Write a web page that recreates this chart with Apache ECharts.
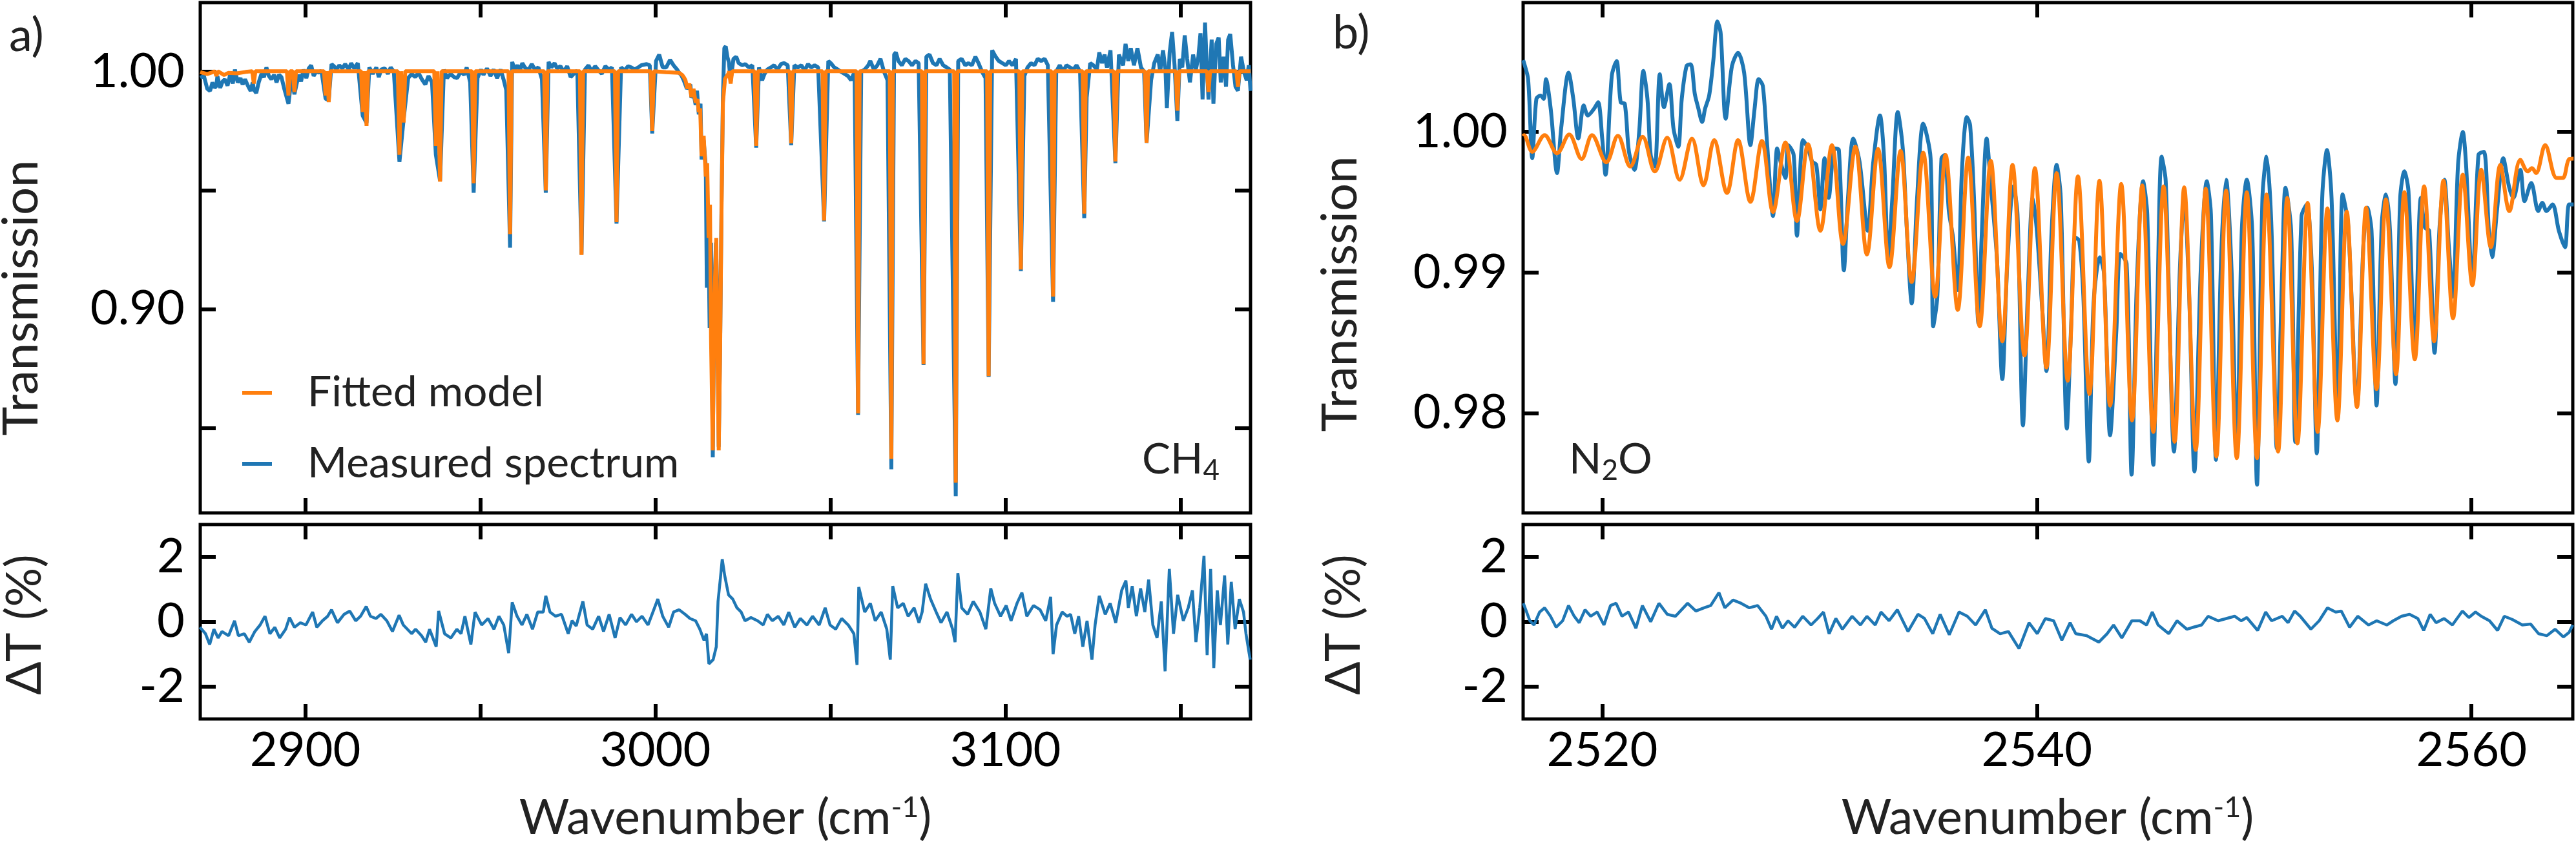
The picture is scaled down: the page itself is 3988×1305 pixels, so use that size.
<!DOCTYPE html>
<html>
<head>
<meta charset="utf-8">
<script src="https://cdn.jsdelivr.net/npm/echarts@6.0.0/dist/echarts.min.js"></script>
<style>
html, body { margin: 0; padding: 0; background: #fff; }
#chart { width: 3988px; height: 1305px; }
</style>
</head>
<body>
<div id="chart"></div>
<script>
const FONT = 'Lato, "Open Sans", sans-serif';
const BLUE = '#1f77b4';
const ORANGE = '#ff7f0e';

// ---- panel a) CH4 ----
// absorption lines: [wavenumber, fitted model, measured]
const ch4Lines = [
    [2874.6, 0.9982, 0.9940], [2885.3, 0.9950, 0.9925], [2895.2, 0.9900, 0.9865],
    [2896.9, 0.9915, 0.9905], [2905.8, 0.9900, 0.9886], [2906.7, 0.9872, 0.9880],
    [2916.4, 0.9830, 0.9815], [2917.5, 0.9772, 0.9785], [2926.9, 0.9650, 0.9620],
    [2928.1, 0.9786, 0.9800], [2937.3, 0.9687, 0.9650], [2938.5, 0.9537, 0.9540],
    [2948.1, 0.9530, 0.9490], [2958.5, 0.9316, 0.9259], [2968.7, 0.9500, 0.9490],
    [2978.9, 0.9228, 0.9230], [2988.9, 0.9366, 0.9360], [2999.1, 0.9750, 0.9740],
    [3021.5, 0.9950, 0.9960], [3028.8, 0.9687, 0.9680], [3038.8, 0.9698, 0.9690],
    [3048.2, 0.9373, 0.9370], [3057.9, 0.8561, 0.8555], [3067.4, 0.8369, 0.8326],
    [3076.6, 0.8768, 0.8765], [3085.8, 0.8269, 0.8212], [3095.2, 0.8718, 0.8715],
    [3104.4, 0.9167, 0.9160], [3113.6, 0.9053, 0.9031], [3122.5, 0.9402, 0.9383],
    [3131.4, 0.9622, 0.9615], [3140.3, 0.9701, 0.9700], [3149.1, 0.9836, 0.9793],
    [3158.0, 0.9915, 0.9883], [3166.4, 0.9936, 0.9920]
];
const ch4ModelBase = 1.0002;
const ch4ModelExtra = [
    [2870.0, 0.9998], [2872.0, 0.9990], [2873.2, 0.9996], [2876.8, 0.9986],
    [2878.0, 0.9995], [2880.5, 0.9993], [2883.0, 0.9999], [3170.0, 1.0002]
];
// Q-branch near 3017 cm-1
const ch4QModel = [
    [3003.0, 0.9998], [3006.8, 0.9995], [3007.7, 0.9986], [3008.2, 0.9975], [3008.6, 0.9964],
    [3009.1, 0.9929], [3009.7, 0.9950], [3010.3, 0.9893], [3010.9, 0.9928], [3011.5, 0.9870],
    [3012.0, 0.9885], [3012.4, 0.9830], [3012.8, 0.9845], [3013.2, 0.9644], [3013.8, 0.9730],
    [3014.4, 0.9558], [3014.8, 0.9615], [3015.2, 0.9300], [3015.6, 0.9440], [3015.9, 0.8875],
    [3016.4, 0.8405], [3016.8, 0.9017], [3017.4, 0.9300], [3017.7, 0.8870], [3018.1, 0.8405],
    [3018.5, 0.8832], [3018.9, 0.9420], [3019.3, 0.9870], [3019.9, 0.9970], [3020.9, 0.9993]
];
const ch4QMeas = [
    [3006.8, 0.9995], [3007.4, 0.9985], [3008.1, 0.9964], [3009.0, 0.9928], [3010.0, 0.9946],
    [3010.3, 0.9890], [3010.9, 0.9910], [3011.5, 0.9860], [3011.9, 0.9920], [3012.4, 0.9820],
    [3012.9, 0.9865], [3013.2, 0.9630], [3013.8, 0.9710], [3014.4, 0.9600], [3014.7, 0.9090],
    [3015.1, 0.9400], [3015.5, 0.8920], [3015.9, 0.9280], [3016.4, 0.8376], [3016.8, 0.9050],
    [3017.3, 0.9280], [3017.8, 0.9000], [3018.1, 0.8420], [3018.5, 0.8850], [3018.9, 0.9450],
    [3019.3, 0.9900], [3019.7, 1.0100], [3020.1, 1.0107], [3020.6, 1.0060], [3021.0, 1.0040]
];
// measured spectrum between the lines
const ch4BaseMeas = [
    [2870.0, 0.9975], [2871.05, 0.9982], [2872.0, 0.9928], [2872.8, 0.9919], [2873.5, 0.9955], [2874.1, 0.9932],
    [2874.9, 0.9982], [2875.7, 0.9932], [2876.4, 0.9959], [2877.0, 0.9968], [2877.8, 0.9941],
    [2878.6, 0.9991], [2879.3, 0.9950], [2879.9, 1.0009], [2880.7, 0.9955], [2881.5, 0.9973],
    [2882.1, 0.9946], [2882.8, 0.9968], [2883.6, 0.9941], [2884.4, 0.9919], [2885.0, 0.9955],
    [2886.0, 0.9910], [2886.7, 0.9955], [2887.5, 0.9991], [2888.2, 0.9977], [2888.9, 1.0018],
    [2889.6, 0.9982], [2890.3, 0.9968], [2891.1, 0.9987], [2891.8, 0.9955], [2892.5, 0.9987],
    [2893.2, 0.9977], [2894.0, 0.9928], [2896.1, 0.9977], [2898.1, 0.9987], [2898.8, 0.9959],
    [2899.5, 1.0009], [2900.3, 0.9973], [2901.0, 1.0014], [2901.7, 1.0027], [2902.4, 0.9982],
    [2903.1, 1.0000], [2903.9, 0.9996], [2904.6, 1.0005], [2907.5, 1.0032], [2908.2, 1.0023],
    [2908.9, 1.0009], [2909.7, 1.0027], [2910.6, 1.0014], [2911.4, 1.0032], [2912.4, 1.0009],
    [2913.1, 1.0036], [2914.0, 1.0014], [2915.0, 1.0036], [2918.3, 1.0018], [2919.3, 0.9991],
    [2920.3, 1.0018], [2921.0, 0.9977], [2921.7, 1.0009], [2922.7, 1.0014], [2923.6, 0.9991],
    [2924.4, 1.0018], [2925.3, 1.0000], [2929.4, 0.9973], [2930.4, 0.9991], [2931.4, 0.9977],
    [2932.3, 0.9996], [2933.3, 0.9968], [2934.3, 0.9946], [2935.2, 0.9982], [2936.2, 0.9955],
    [2939.6, 1.0009], [2940.5, 0.9973], [2941.5, 0.9991], [2942.5, 0.9977], [2943.4, 0.9973],
    [2944.4, 1.0000], [2945.4, 0.9987], [2946.1, 1.0018], [2947.1, 0.9955], [2949.2, 0.9973],
    [2950.2, 1.0009], [2950.9, 0.9987], [2951.9, 1.0014], [2952.9, 0.9982], [2953.8, 1.0009],
    [2954.8, 0.9973], [2955.8, 1.0009], [2956.7, 0.9964], [2957.4, 0.9923], [2959.1, 1.0041],
    [2959.8, 1.0009], [2960.6, 1.0027], [2961.3, 1.0005], [2962.0, 1.0036], [2962.7, 1.0018],
    [2963.7, 1.0005], [2964.7, 1.0032], [2965.6, 1.0009], [2966.6, 1.0018], [2967.6, 0.9968],
    [2969.5, 1.0041], [2970.3, 1.0018], [2971.2, 1.0036], [2971.9, 1.0014], [2972.9, 1.0023],
    [2973.8, 1.0000], [2974.8, 1.0023], [2975.8, 0.9977], [2976.7, 0.9991], [2977.7, 1.0005],
    [2979.9, 1.0009], [2980.9, 1.0027], [2981.8, 1.0000], [2982.8, 1.0023], [2983.8, 1.0005],
    [2984.7, 0.9991], [2985.7, 1.0023], [2986.7, 1.0009], [2987.6, 1.0018], [2990.2, 1.0018],
    [2991.2, 1.0005], [2992.2, 1.0023], [2993.1, 1.0018], [2994.1, 1.0009], [2995.1, 1.0018],
    [2996.0, 1.0027], [2997.5, 1.0032], [2998.4, 1.0027], [3000.2, 1.0045], [3001.1, 1.0072],
    [3002.1, 1.0018], [3003.1, 1.0018], [3004.2, 1.0050], [3005.2, 1.0027], [3006.2, 1.0009],
    [3022.3, 1.0054], [3023.1, 1.0063], [3023.8, 1.0036], [3024.8, 1.0027], [3025.7, 1.0032],
    [3026.7, 1.0018], [3027.7, 1.0027], [3029.6, 1.0018], [3030.5, 0.9964], [3031.2, 0.9991],
    [3032.0, 1.0009], [3033.0, 1.0018], [3033.9, 1.0027], [3034.9, 1.0009], [3035.9, 1.0032],
    [3036.8, 1.0036], [3037.8, 1.0027], [3039.7, 1.0027], [3040.7, 1.0018], [3041.7, 1.0027],
    [3042.6, 1.0005], [3043.6, 1.0032], [3044.5, 1.0018], [3045.5, 1.0027], [3046.5, 1.0018],
    [3049.4, 1.0045], [3050.1, 1.0036], [3051.1, 1.0018], [3052.1, 1.0009], [3053.0, 1.0000],
    [3054.0, 0.9991], [3055.0, 0.9982], [3055.9, 0.9964], [3056.9, 1.0000], [3058.8, 1.0000],
    [3059.8, 1.0009], [3060.8, 1.0027], [3061.4, 1.0045], [3062.4, 1.0009], [3063.4, 1.0027],
    [3064.3, 1.0054], [3065.3, 1.0000], [3066.3, 0.9964], [3068.2, 1.0072], [3068.7, 1.0081],
    [3069.4, 1.0045], [3070.4, 1.0027], [3071.4, 1.0054], [3072.3, 1.0045], [3073.3, 1.0027],
    [3074.3, 1.0045], [3075.2, 1.0036], [3077.4, 1.0063], [3078.3, 1.0072], [3079.3, 1.0036],
    [3080.3, 1.0027], [3081.2, 1.0054], [3082.2, 1.0027], [3083.2, 1.0018], [3084.1, 1.0009],
    [3086.5, 1.0045], [3087.5, 1.0054], [3088.5, 1.0027], [3089.4, 1.0036], [3090.4, 1.0027],
    [3091.4, 1.0063], [3092.3, 1.0036], [3093.3, 1.0000], [3094.3, 0.9973], [3096.2, 1.0090],
    [3097.2, 1.0063], [3098.1, 1.0045], [3099.1, 1.0036], [3100.1, 1.0027], [3101.0, 1.0045],
    [3102.0, 1.0027], [3103.0, 1.0054], [3105.4, 0.9982], [3106.3, 1.0018], [3107.3, 1.0036],
    [3108.3, 1.0027], [3109.2, 1.0054], [3110.2, 1.0045], [3111.2, 1.0054], [3112.1, 1.0027],
    [3114.5, 1.0000], [3115.5, 1.0027], [3116.5, 1.0000], [3117.4, 1.0027], [3118.4, 1.0018],
    [3119.4, 1.0009], [3120.3, 1.0027], [3121.3, 1.0000], [3123.2, 0.9892], [3124.2, 1.0036],
    [3125.1, 1.0027], [3126.1, 1.0009], [3126.8, 1.0081], [3127.6, 1.0036], [3128.3, 1.0072],
    [3129.0, 1.0018], [3130.0, 1.0090], [3132.4, 1.0072], [3133.6, 1.0027], [3134.3, 1.0117],
    [3135.1, 1.0045], [3135.8, 1.0099], [3136.7, 1.0027], [3137.7, 1.0099], [3138.7, 1.0018],
    [3139.6, 1.0000], [3141.6, 0.9964], [3142.5, 1.0036], [3143.5, 1.0072], [3144.2, 1.0000],
    [3145.0, 1.0090], [3145.7, 1.0009], [3146.1, 0.9847], [3146.9, 1.0081], [3147.6, 1.0167],
    [3148.3, 1.0027], [3149.8, 1.0054], [3150.5, 1.0018], [3151.2, 1.0153], [3151.9, 1.0054],
    [3152.7, 0.9955], [3153.6, 1.0072], [3154.4, 1.0009], [3155.1, 1.0063], [3155.7, 1.0162],
    [3156.3, 0.9883], [3157.0, 1.0207], [3157.5, 1.0027], [3158.9, 1.0135], [3159.4, 0.9865],
    [3160.2, 1.0117], [3160.9, 1.0144], [3161.5, 0.9955], [3162.3, 1.0063], [3163.0, 0.9937],
    [3163.6, 1.0135], [3164.2, 1.0158], [3165.0, 1.0027], [3165.7, 0.9937], [3167.3, 1.0063],
    [3168.1, 1.0000], [3168.9, 0.9964], [3169.5, 1.0027], [3170.0, 0.9919]
];
// residual a) in %
const resAWn = [
    2869.9, 2871.5, 2872.7, 2873.9, 2875.1, 2876.2, 2878.1, 2879.8, 2880.9, 2882.6, 2884.0, 2885.6,
    2887.1, 2888.5, 2889.9, 2891.3, 2892.7, 2894.4, 2895.5, 2896.9, 2898.6, 2900.2, 2902.1, 2903.3,
    2904.9, 2906.4, 2907.5, 2909.2, 2911.1, 2912.7, 2914.4, 2915.8, 2917.4, 2918.6, 2920.2, 2921.6,
    2923.3, 2924.9, 2926.8, 2928.0, 2930.4, 2931.5, 2933.2, 2934.4, 2935.5, 2937.4, 2938.1, 2939.8,
    2941.6, 2943.3, 2944.5, 2945.6, 2947.3, 2948.5, 2950.4, 2952.2, 2953.9, 2955.3, 2956.7, 2958.1,
    2959.1, 2960.5, 2961.9, 2963.3, 2964.9, 2966.4, 2968.0, 2968.7, 2969.9, 2971.5, 2973.2, 2975.1,
    2976.2, 2977.4, 2979.3, 2980.5, 2982.1, 2983.8, 2985.2, 2986.8, 2988.5, 2989.9, 2991.5, 2993.2,
    2994.6, 2996.2, 2997.9, 2999.3, 3000.7, 3002.1, 3003.8, 3005.2, 3006.8, 3008.5, 3009.9, 3011.5,
    3012.7, 3013.9, 3014.6, 3015.3, 3016.5, 3017.4, 3017.9, 3018.6, 3019.1, 3019.8, 3020.9, 3022.1,
    3023.3, 3024.5, 3025.6, 3027.3, 3029.2, 3030.8, 3032.0, 3033.4, 3035.1, 3036.7, 3038.1, 3039.8,
    3041.4, 3043.3, 3044.9, 3046.8, 3048.5, 3049.9, 3051.5, 3053.2, 3055.1, 3056.7, 3057.6, 3058.1,
    3059.8, 3061.4, 3062.8, 3064.5, 3066.1, 3067.1, 3067.8, 3069.2, 3070.8, 3072.2, 3073.9, 3075.3,
    3076.2, 3077.2, 3078.6, 3080.2, 3081.6, 3083.3, 3084.9, 3085.6, 3086.4, 3087.5, 3089.2, 3090.8,
    3092.7, 3094.4, 3095.8, 3096.9, 3098.6, 3100.2, 3101.6, 3103.3, 3104.7, 3106.1, 3108.0, 3109.9,
    3111.5, 3112.9, 3113.6, 3114.6, 3116.2, 3117.6, 3118.6, 3119.8, 3120.9, 3122.1, 3123.3, 3124.7,
    3125.6, 3126.8, 3128.5, 3129.9, 3131.5, 3133.2, 3134.4, 3135.1, 3136.2, 3137.4, 3138.6, 3139.8,
    3140.9, 3142.1, 3143.3, 3144.5, 3145.6, 3146.8, 3148.0, 3149.2, 3150.8, 3152.2, 3153.4, 3154.4,
    3155.5, 3156.7, 3157.6, 3158.6, 3159.5, 3160.5, 3161.4, 3162.6, 3163.5, 3164.5, 3165.6, 3166.8,
    3168.0, 3168.7, 3169.9
];
const resAVal = [
    -0.17, -0.37, -0.70, -0.23, -0.50, -0.30, -0.43, 0.03, -0.43, -0.37, -0.63, -0.30,
    -0.10, 0.17, -0.37, -0.17, -0.50, -0.23, 0.13, -0.17, -0.03, -0.10, 0.30, -0.17,
    0.03, 0.17, 0.37, -0.03, 0.23, 0.33, 0.03, 0.17, 0.47, 0.17, 0.10, 0.23,
    0.03, -0.30, 0.20, -0.10, -0.37, -0.23, -0.43, -0.63, -0.23, -0.77, 0.33, -0.37,
    -0.50, -0.23, -0.37, 0.17, -0.70, 0.30, -0.10, 0.10, -0.23, 0.17, -0.10, -0.97,
    0.60, 0.17, -0.10, 0.23, -0.23, 0.30, 0.30, 0.80, 0.30, 0.17, 0.23, -0.37,
    0.03, -0.13, 0.63, -0.10, -0.23, 0.17, -0.30, 0.23, -0.50, 0.13, -0.10, 0.23,
    0.00, 0.17, -0.10, 0.30, 0.70, 0.17, -0.17, 0.30, 0.37, 0.23, 0.10, 0.03,
    -0.23, -0.57, -0.37, -1.30, -1.17, -0.77, 0.63, 1.37, 1.93, 1.43, 0.83, 0.70,
    0.43, 0.30, 0.03, 0.13, 0.03, -0.10, 0.23, 0.03, 0.17, -0.10, 0.30, -0.17,
    0.10, -0.10, 0.17, -0.10, 0.43, -0.10, -0.23, 0.10, -0.10, -0.37, -1.33, 1.07,
    0.30, 0.57, 0.03, 0.30, -0.23, -1.17, 1.10, 0.43, 0.57, 0.17, 0.43, -0.03,
    0.30, 1.17, 0.70, 0.30, -0.03, 0.30, -0.23, -0.63, 1.50, 0.43, 0.23, 0.63,
    0.30, -0.23, 1.03, 0.57, 0.17, 0.50, 0.03, 0.57, 0.90, 0.17, 0.50, 0.37,
    0.03, 0.77, -1.00, -0.10, 0.30, 0.17, 0.23, -0.37, 0.17, -0.77, 0.03, -1.17,
    -0.10, 0.80, 0.23, 0.57, -0.03, 0.97, 1.27, 0.43, 1.10, 0.17, 1.03, 0.30,
    1.30, -0.10, -0.50, 0.63, -1.53, 1.63, -0.37, 0.83, 0.03, 0.43, 0.97, -0.63,
    0.43, 2.03, -1.03, 1.63, -1.43, 0.97, -0.10, 1.43, -0.70, 1.23, -0.23, 0.70,
    0.30, -0.37, -1.17
];

// ---- panel b) N2O ----
const n2oModel = [
    [2516.36, 0.99970], [2516.40, 0.99977], [2516.78, 0.99859], [2517.35, 0.99977], [2517.92, 0.99848],
    [2518.48, 0.99981], [2519.05, 0.99808], [2519.53, 0.99977], [2520.19, 0.99784], [2520.72, 0.99972],
    [2521.29, 0.99754], [2521.86, 0.99965], [2522.42, 0.99719], [2522.99, 0.99958], [2523.56, 0.99660],
    [2524.13, 0.99953], [2524.66, 0.99620], [2525.15, 0.99941], [2525.74, 0.99566], [2526.25, 0.99941],
    [2526.82, 0.99503], [2527.35, 0.99935], [2527.86, 0.99430], [2528.43, 0.99925], [2528.96, 0.99367],
    [2529.47, 0.99913], [2530.04, 0.99297], [2530.57, 0.99906], [2531.08, 0.99203], [2531.65, 0.99895],
    [2532.18, 0.99128], [2532.69, 0.99878], [2533.22, 0.99039], [2533.73, 0.99864], [2534.24, 0.98933],
    [2534.77, 0.99852], [2535.32, 0.98828], [2535.80, 0.99836], [2536.36, 0.98734], [2536.84, 0.99817],
    [2537.37, 0.98617], [2537.88, 0.99794], [2538.41, 0.98511], [2538.88, 0.99766], [2539.43, 0.98410],
    [2539.91, 0.99742], [2540.44, 0.98324], [2540.91, 0.99707], [2541.42, 0.98230], [2541.89, 0.99684],
    [2542.42, 0.98136], [2542.88, 0.99653], [2543.37, 0.98054], [2543.88, 0.99630], [2544.38, 0.97948],
    [2544.85, 0.99620], [2545.36, 0.97866], [2545.83, 0.99613], [2546.34, 0.97796], [2546.78, 0.99606],
    [2547.31, 0.97738], [2547.77, 0.99597], [2548.26, 0.97691], [2548.71, 0.99583], [2549.20, 0.97679],
    [2549.66, 0.99571], [2550.13, 0.97679], [2550.57, 0.99555], [2551.10, 0.97726], [2551.52, 0.99531],
    [2551.99, 0.97784], [2552.46, 0.99496], [2552.92, 0.97866], [2553.37, 0.99456], [2553.83, 0.97948],
    [2554.26, 0.99433], [2554.73, 0.98042], [2555.15, 0.99461], [2555.63, 0.98171], [2556.06, 0.99520],
    [2556.53, 0.98277], [2556.91, 0.99571], [2557.39, 0.98382], [2557.82, 0.99613], [2558.28, 0.98511],
    [2558.71, 0.99653], [2559.15, 0.98675], [2559.60, 0.99696], [2560.04, 0.98910], [2560.45, 0.99731],
    [2560.89, 0.99180], [2561.33, 0.99766], [2561.74, 0.99437], [2562.25, 0.99801], [2562.59, 0.99719],
    [2562.78, 0.99742], [2562.97, 0.99707], [2563.39, 0.99906], [2563.92, 0.99672], [2564.20, 0.99672],
    [2564.49, 0.99806], [2564.70, 0.99810]
];
const n2oMeas = [
    [2516.36, 1.00510], [2516.40, 1.00493], [2516.59, 1.00375], [2516.78, 0.99813], [2516.97, 1.00235],
    [2517.16, 1.00258], [2517.31, 1.00235], [2517.41, 1.00375], [2517.63, 1.00164], [2517.92, 0.99707],
    [2518.11, 1.00024], [2518.45, 1.00422], [2518.67, 1.00235], [2518.90, 0.99953], [2519.15, 1.00188],
    [2519.34, 1.00117], [2519.62, 1.00164], [2519.81, 1.00211], [2520.00, 0.99953], [2520.15, 0.99695],
    [2520.44, 1.00399], [2520.66, 1.00504], [2520.85, 1.00211], [2521.04, 1.00199], [2521.23, 0.99859],
    [2521.48, 0.99730], [2521.70, 1.00000], [2521.89, 1.00434], [2522.08, 1.00235], [2522.23, 0.99836],
    [2522.42, 0.99754], [2522.65, 1.00410], [2522.84, 1.00176], [2523.09, 1.00340], [2523.28, 1.00024],
    [2523.50, 0.99895], [2523.66, 1.00235], [2523.88, 1.00469], [2524.07, 1.00481], [2524.26, 1.00270],
    [2524.41, 1.00176], [2524.60, 1.00071], [2524.73, 1.00164], [2524.92, 1.00258], [2525.11, 1.00504],
    [2525.30, 1.00786], [2525.45, 1.00703], [2525.68, 1.00094], [2525.97, 1.00469], [2526.25, 1.00563],
    [2526.53, 1.00422], [2526.82, 0.99906], [2527.01, 1.00164], [2527.20, 1.00375], [2527.39, 1.00328],
    [2527.58, 0.99930], [2527.86, 0.99402], [2528.05, 0.99883], [2528.24, 0.99766], [2528.43, 0.99672],
    [2528.56, 0.99906], [2528.81, 0.99836], [2528.96, 0.99262], [2529.24, 0.99941], [2529.47, 0.99883],
    [2529.66, 0.99789], [2529.85, 0.99766], [2530.04, 0.99449], [2530.23, 0.99813], [2530.42, 0.99531],
    [2530.70, 0.99883], [2530.89, 0.99871], [2531.12, 0.99016], [2531.31, 0.99531], [2531.55, 0.99953],
    [2531.84, 0.99789], [2532.22, 0.99297], [2532.46, 0.99766], [2532.78, 1.00117], [2532.97, 0.99813],
    [2533.16, 0.99086], [2533.35, 0.99531], [2533.60, 1.00141], [2533.83, 0.99883], [2534.02, 0.99297],
    [2534.24, 0.98781], [2534.49, 0.99531], [2534.77, 1.00059], [2535.11, 0.99813], [2535.23, 0.98617],
    [2535.42, 0.98828], [2535.61, 0.99813], [2535.76, 0.99836], [2535.95, 0.99437], [2536.14, 0.99250],
    [2536.36, 0.98875], [2536.55, 0.99719], [2536.78, 1.00106], [2536.93, 1.00047], [2537.12, 0.99484],
    [2537.31, 0.98640], [2537.46, 0.99250], [2537.69, 0.99953], [2537.88, 0.99625], [2538.16, 0.99109],
    [2538.41, 0.98242], [2538.64, 0.99062], [2538.92, 0.99613], [2539.11, 0.99414], [2539.36, 0.97913],
    [2539.58, 0.98828], [2539.81, 0.99531], [2540.00, 0.99297], [2540.25, 0.98734], [2540.44, 0.98300],
    [2540.68, 0.99297], [2540.91, 0.99766], [2541.10, 0.99531], [2541.38, 0.97890], [2541.57, 0.98593],
    [2541.76, 0.99250], [2541.95, 0.99226], [2542.14, 0.98828], [2542.39, 0.97655], [2542.61, 0.98781],
    [2542.90, 0.99109], [2543.09, 0.98992], [2543.37, 0.97843], [2543.66, 0.98593], [2543.84, 0.99133],
    [2544.13, 0.99062], [2544.36, 0.97562], [2544.60, 0.98922], [2544.89, 0.99649], [2545.08, 0.99414],
    [2545.36, 0.97632], [2545.55, 0.98828], [2545.74, 0.99824], [2545.93, 0.99649], [2546.31, 0.97726],
    [2546.59, 0.99062], [2546.78, 0.99531], [2547.01, 0.98828], [2547.25, 0.97585], [2547.54, 0.99015],
    [2547.82, 0.99649], [2548.01, 0.99414], [2548.24, 0.97667], [2548.48, 0.99109], [2548.71, 0.99660],
    [2548.96, 0.99015], [2549.20, 0.97702], [2549.43, 0.99297], [2549.66, 0.99660], [2549.91, 0.99297],
    [2550.13, 0.97491], [2550.38, 0.99531], [2550.57, 0.99824], [2550.80, 0.99297], [2551.04, 0.97749],
    [2551.29, 0.99015], [2551.44, 0.99602], [2551.70, 0.99297], [2551.89, 0.97796], [2552.18, 0.99402],
    [2552.42, 0.99484], [2552.65, 0.99039], [2552.88, 0.97714], [2553.13, 0.99531], [2553.35, 0.99871],
    [2553.56, 0.99531], [2553.84, 0.97960], [2554.07, 0.99555], [2554.32, 0.99344], [2554.73, 0.98054],
    [2555.02, 0.99180], [2555.21, 0.99461], [2555.40, 0.99297], [2555.63, 0.98054], [2555.87, 0.99344],
    [2556.06, 0.99555], [2556.25, 0.99297], [2556.50, 0.98207], [2556.72, 0.99531], [2556.91, 0.99719],
    [2557.10, 0.99578], [2557.39, 0.98406], [2557.67, 0.99531], [2557.86, 0.99320], [2558.05, 0.99297],
    [2558.30, 0.98429], [2558.52, 0.99297], [2558.75, 0.99660], [2558.96, 0.99180], [2559.15, 0.98828],
    [2559.38, 0.99766], [2559.60, 1.00000], [2559.75, 0.99766], [2560.04, 0.98922], [2560.32, 0.99836],
    [2560.57, 0.99859], [2560.80, 0.99297], [2560.95, 0.99109], [2561.17, 0.99437], [2561.46, 0.99813],
    [2561.74, 0.99602], [2561.93, 0.99531], [2562.25, 0.99730], [2562.44, 0.99508], [2562.75, 0.99637],
    [2563.07, 0.99437], [2563.26, 0.99496], [2563.45, 0.99437], [2563.73, 0.99484], [2564.02, 0.99297],
    [2564.30, 0.99180], [2564.49, 0.99484], [2564.70, 0.99484]
];
const resBWn = [
    2516.37, 2516.67, 2516.86, 2517.12, 2517.35, 2517.62, 2517.88, 2518.18, 2518.45, 2518.71, 2518.94, 2519.21,
    2519.47, 2519.77, 2520.08, 2520.38, 2520.64, 2520.91, 2521.21, 2521.55, 2521.85, 2522.23, 2522.61, 2522.99,
    2523.37, 2523.93, 2524.31, 2524.69, 2524.99, 2525.37, 2525.64, 2526.02, 2526.39, 2526.77, 2527.15, 2527.53,
    2527.79, 2528.02, 2528.29, 2528.55, 2528.85, 2529.23, 2529.61, 2529.91, 2530.18, 2530.44, 2530.75, 2531.05,
    2531.50, 2531.88, 2532.18, 2532.56, 2532.83, 2533.20, 2533.58, 2534.07, 2534.53, 2534.83, 2535.21, 2535.55,
    2535.97, 2536.42, 2536.80, 2537.18, 2537.63, 2537.93, 2538.31, 2538.69, 2539.18, 2539.64, 2540.02, 2540.39,
    2540.77, 2541.15, 2541.53, 2541.79, 2542.29, 2542.85, 2543.23, 2543.53, 2543.91, 2544.37, 2544.74, 2545.05,
    2545.31, 2545.58, 2546.07, 2546.45, 2546.90, 2547.20, 2547.58, 2547.88, 2548.34, 2548.72, 2549.10, 2549.40,
    2549.66, 2550.16, 2550.53, 2550.80, 2551.29, 2551.56, 2551.86, 2552.12, 2552.61, 2552.99, 2553.37, 2553.75,
    2554.01, 2554.39, 2554.77, 2555.26, 2555.64, 2556.10, 2556.40, 2556.78, 2557.15, 2557.53, 2557.80, 2558.10,
    2558.37, 2558.74, 2559.12, 2559.58, 2559.88, 2560.18, 2560.45, 2560.83, 2561.20, 2561.51, 2561.88, 2562.34,
    2562.72, 2563.09, 2563.47, 2563.85, 2564.23, 2564.49, 2564.66
];
const resBVal = [
    0.57, 0.03, -0.10, 0.30, 0.43, 0.17, -0.17, 0.03, 0.50, 0.17, -0.03, 0.37,
    0.17, 0.30, -0.10, 0.50, 0.57, 0.17, 0.30, -0.20, 0.50, 0.00, 0.57, 0.23,
    0.17, 0.57, 0.33, 0.43, 0.50, 0.90, 0.43, 0.67, 0.57, 0.43, 0.50, 0.17,
    -0.23, 0.17, -0.20, 0.03, -0.17, 0.17, -0.10, 0.10, 0.30, -0.37, 0.10, -0.23,
    0.17, -0.10, 0.17, -0.10, 0.30, 0.03, 0.37, -0.30, 0.23, 0.10, -0.37, 0.23,
    -0.40, 0.30, 0.17, -0.10, 0.37, -0.20, -0.37, -0.30, -0.83, -0.03, -0.37, 0.10,
    0.03, -0.57, -0.03, -0.37, -0.43, -0.63, -0.37, -0.10, -0.50, 0.03, 0.03, -0.10,
    0.30, -0.10, -0.37, 0.03, -0.23, -0.17, -0.10, 0.17, 0.03, 0.10, 0.17, 0.03,
    0.13, -0.27, 0.30, 0.03, 0.17, -0.03, 0.33, 0.17, -0.23, 0.03, 0.43, 0.30,
    0.33, -0.17, 0.17, -0.10, 0.03, -0.10, 0.03, 0.17, 0.23, 0.10, -0.27, 0.23,
    -0.03, 0.10, -0.10, 0.33, 0.13, 0.30, 0.17, 0.03, -0.27, 0.17, 0.07, -0.10,
    -0.07, -0.37, -0.43, -0.23, -0.47, -0.33, -0.10
];

// ---- axes ticks / labels ----
const ch4TickWn = [2900, 2950, 3000, 3050, 3100, 3150];
const ch4LabelWn = [2900, 3000, 3100];
const ch4TransTicks = [0.85, 0.90, 0.95, 1.00];
const ch4TransLabels = [0.90, 1.00];
const n2oTickWn = [2520, 2540, 2560];
const n2oTransTicks = [0.98, 0.99, 1.00];
const resTicks = [-2, 0, 2];

// build line series data
const byX = (a, b) => a[0] - b[0];
const ch4Model = ch4ModelExtra.concat(ch4QModel);
ch4Lines.forEach((l) => {
    ch4Model.push([l[0] - 0.45, ch4ModelBase], [l[0], l[1]], [l[0] + 0.45, ch4ModelBase]);
});
ch4Model.sort(byX);
const ch4Meas = ch4BaseMeas.concat(ch4QMeas);
ch4Lines.forEach((l) => {
    ch4Meas.push([l[0], l[2]]);
});
ch4Meas.sort(byX);
const resA = resAWn.map((w, i) => [w, resAVal[i]]);
const resB = resBWn.map((w, i) => [w, resBVal[i]]);

const grids = [
    { left: 310, top: 4, width: 1626, height: 790 },
    { left: 310, top: 812, width: 1626, height: 301 },
    { left: 2358, top: 4, width: 1625, height: 790 },
    { left: 2358, top: 812, width: 1625, height: 301 },
].map((g) => Object.assign(g, {
    show: true, borderColor: '#000', borderWidth: 5, backgroundColor: 'transparent',
    containLabel: false, outerBoundsMode: 'none'
}));

const tickStyle = (len, vals) => ({
    show: true, inside: true, length: len, customValues: vals,
    lineStyle: { color: '#000', width: 6 }
});
const noLine = { show: false, onZero: false };

const makeX = (g, min, max, ticks, labels, showLabels) => [
    {
        type: 'value', gridIndex: g, position: 'bottom', min: min, max: max,
        axisLine: noLine, splitLine: { show: false },
        axisTick: tickStyle(23, ticks),
        axisLabel: {
            show: showLabels, customValues: labels, margin: 12,
            fontSize: 74, fontFamily: FONT, color: '#000',
            formatter: (v) => String(v)
        }
    },
    {
        type: 'value', gridIndex: g, position: 'top', min: min, max: max,
        axisLine: noLine, splitLine: { show: false },
        axisTick: tickStyle(23, ticks), axisLabel: { show: false }
    }
];

const makeY = (g, min, max, ticks, labels, fmt) => [
    {
        type: 'value', gridIndex: g, position: 'left', min: min, max: max,
        axisLine: noLine, splitLine: { show: false },
        axisTick: tickStyle(24, ticks),
        axisLabel: {
            show: true, customValues: labels, margin: 24,
            fontSize: 74, fontFamily: FONT, color: '#000', formatter: fmt
        }
    },
    {
        type: 'value', gridIndex: g, position: 'right', min: min, max: max,
        axisLine: noLine, splitLine: { show: false },
        axisTick: tickStyle(24, ticks), axisLabel: { show: false }
    }
];

const fmt2 = (v) => v.toFixed(2);
const fmt0 = (v) => String(v);

const xAxis = [].concat(
    makeX(0, 2870, 3170, ch4TickWn, ch4LabelWn, false),
    makeX(1, 2870, 3170, ch4TickWn, ch4LabelWn, true),
    makeX(2, 2516.36, 2564.66, n2oTickWn, n2oTickWn, false),
    makeX(3, 2516.36, 2564.66, n2oTickWn, n2oTickWn, true)
);
const yAxis = [].concat(
    makeY(0, 0.8142, 1.0291, ch4TransTicks, ch4TransLabels, fmt2),
    makeY(1, -3, 3, resTicks, resTicks, fmt0),
    makeY(2, 0.9729, 1.0092, n2oTransTicks, n2oTransTicks, fmt2),
    makeY(3, -3, 3, resTicks, resTicks, fmt0)
);

const lineSeries = (name, axis, data, color, width, smooth) => ({
    type: 'line', name: name, xAxisIndex: axis, yAxisIndex: axis,
    data: data, color: color, symbol: 'none', smooth: smooth || false,
    lineStyle: { color: color, width: width }, itemStyle: { color: color },
    animation: false
});

const series = [
    lineSeries('Measured spectrum', 0, ch4Meas, BLUE, 6),
    lineSeries('Fitted model', 0, ch4Model, ORANGE, 6),
    lineSeries('resA', 2, resA, BLUE, 4.5),
    lineSeries('Measured spectrum', 4, n2oMeas, BLUE, 6, 0.3),
    lineSeries('Fitted model', 4, n2oModel, ORANGE, 6, 0.35),
    lineSeries('resB', 6, resB, BLUE, 4.5)
];

const txt = (x, y, text, size, opts) => Object.assign({
    type: 'text', x: x, y: y, silent: true,
    style: {
        text: text, fill: '#222', fontFamily: FONT, fontSize: size,
        align: 'center', verticalAlign: 'middle'
    }
}, opts || {});

const wavTitle = (x) => ({
    type: 'text', x: x, y: 1266, silent: true,
    style: {
        text: '{n|Wavenumber (cm}{s|-1}{n|)}', align: 'center', verticalAlign: 'middle',
        fill: '#222', fontFamily: FONT,
        rich: {
            n: { fontSize: 75, fontFamily: FONT, fill: '#222', verticalAlign: 'bottom' },
            s: { fontSize: 45, fontFamily: FONT, fill: '#222', verticalAlign: 'top', padding: [0, 0, 32, 0] }
        }
    }
});

const molLabel = (x, main, sub, tail) => ({
    type: 'text', x: x, y: 712, silent: true,
    style: {
        text: '{n|' + main + '}{s|' + sub + '}' + (tail ? '{n|' + tail + '}' : ''),
        align: 'left', verticalAlign: 'middle', fill: '#222', fontFamily: FONT,
        rich: {
            n: { fontSize: 66, fontFamily: FONT, fill: '#222', verticalAlign: 'bottom' },
            s: { fontSize: 44, fontFamily: FONT, fill: '#222', verticalAlign: 'bottom', padding: [0, 0, -6, 0] }
        }
    }
});

const graphic = [
    txt(14, 56, 'a)', 72, {}),
    txt(2063, 52, 'b)', 72, {}),
    txt(33, 461, 'Transmission', 76, { rotation: Math.PI / 2 }),
    txt(2075, 455, 'Transmission', 76, { rotation: Math.PI / 2 }),
    txt(38, 967, 'ΔT (%)', 76, { rotation: Math.PI / 2 }),
    txt(2080, 967, 'ΔT (%)', 76, { rotation: Math.PI / 2 }),
    wavTitle(1123),
    wavTitle(3170),
    molLabel(1768, 'CH', '4'),
    molLabel(2429, 'N', '2', 'O')
];
graphic[0].style.align = 'left';
graphic[1].style.align = 'left';

const chart = echarts.init(document.getElementById('chart'));
chart.setOption({
    backgroundColor: '#fff',
    animation: false,
    grid: grids,
    xAxis: xAxis,
    yAxis: yAxis,
    legend: {
        data: ['Fitted model', 'Measured spectrum'],
        orient: 'vertical', left: 370, top: 566,
        icon: 'rect', itemWidth: 46, itemHeight: 6, itemGap: 36,
        textStyle: {
            fontSize: 66, fontFamily: FONT, color: '#222',
            padding: [0, 0, 0, 50], lineHeight: 74
        }
    },
    series: series,
    graphic: graphic
});
</script>
</body>
</html>
